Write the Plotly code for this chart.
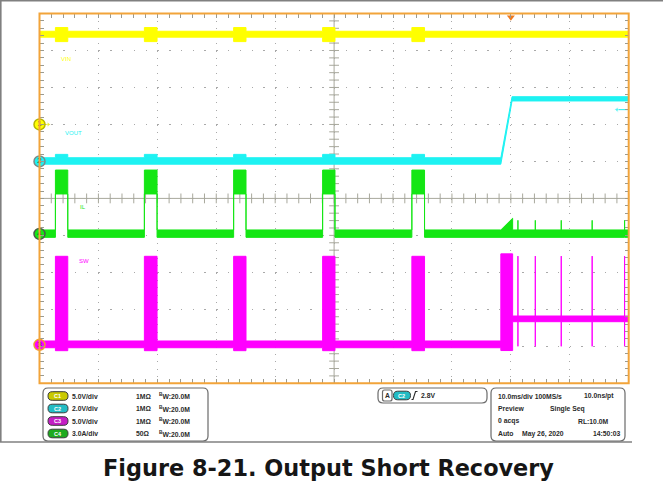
import plotly.graph_objects as go

W, H = 663, 494

# ---------------- acquisition record (time in ms, trigger at t = 0) ----------------
time_range = [-80.0, 20.0]
hiccup_on = [-77.3, -62.2, -47.05, -31.95, -16.8]
hiccup_off = [-75.2, -60.05, -44.95, -29.85, -14.65]
restart_on = -1.7
restart_done = 0.3
vout_rise_done = 0.2
pulse_t = [1.2, 4.15, 8.55, 13.8, 19.3]      # isolated switching pulses after recovery

# envelopes as [low, high]
vin_idle = [11.8, 12.6]          # V
vin_burst = [11.2, 13.1]

vout_idle = [-0.15, 0.2]         # V
vout_burst = [-0.15, 0.38]
vout_reg = [3.27, 3.5]

sw_idle = [-0.39, 0.52]          # V
sw_burst = [-0.79, 11.97]
sw_restart = [-0.77, 12.3]
sw_reg = [3.13, 3.9]
sw_pulse = [-0.2, 12.0]

il_idle = [-0.28, 0.32]          # A
il_burst = [3.24, 5.18]
il_restart_peak = 1.27
il_pulse_peak = 1.10

# ---------------- scope settings ----------------
ch_names = ["C1", "C2", "C3", "C4"]
ch_per_div = [5.0, 2.0, 5.0, 3.0]
ch_scale_text = ["5.0V/div", "2.0V/div", "5.0V/div", "3.0A/div"]
ch_term = ["1MΩ", "1MΩ", "1MΩ", "50Ω"]
ch_bw = ["20.0M", "20.0M", "20.0M", "20.0M"]
ch_labels = ["VIN", "VOUT", "SW", "IL"]
trigger_level = 2.8              # V on C2
trigger_text = "2.8V"
horiz_text = ["10.0ms/div 100MS/s", "10.0ns/pt"]
acq_text = ["Preview", "Single Seq", "0 acqs", "RL:10.0M"]
clock_text = ["Auto", "May 26, 2020", "14:50:03"]
title_text = "Figure 8-21. Output Short Recovery"

# display layout
ch_position = [2.0, 1.0, -3.96, -0.96]        # divisions from centre
ch_color = ["#ffff00", "#1ef2f2", "#ff00ff", "#14e614"]
ch_badge = ["#c9c900", "#22bcc4", "#c41ec4", "#1eaa1e"]
ch_marker_edge = ["#b5b500", "#7a8a8a", "#f0a030", "#4a5a4a"]
ch_label_xy = [(59, 59), (63, 132.5), (77, 261), (78, 207)]
FX0, FX1, FY0, FY1 = 39.5, 628.7, 13.5, 383.3   # graticule frame, px


def px(x):
    return x / W


def py(y):
    return 1 - y / H


def seg(t0, t1, a, b=None):
    b = a if b is None else b
    return (t0, t1, a[0], a[1], b[0], b[1])


def hiccup(idle, burst):
    segs, t = [], time_range[0]
    for on, off in zip(hiccup_on, hiccup_off):
        segs += [seg(t, on, idle), seg(on, off, burst)]
        t = off
    return segs, t


def with_pulses(t, base, pulse, t_end):
    segs = []
    for tp in pulse_t:
        segs += [seg(t, tp, base), seg(tp, tp, pulse)]
        t = tp
    segs.append(seg(t, t_end, base))
    return segs


def polygon(segs):
    ut, uv, lt, lv = [], [], [], []
    for t0, t1, lo0, hi0, lo1, hi1 in segs:
        ut += [t0, t1]
        uv += [hi0, hi1]
        lt += [t0, t1]
        lv += [lo0, lo1]
    return ut + lt[::-1], uv + lv[::-1]


# ---- build envelopes ----
s, t = hiccup(vin_idle, vin_burst)
vin_segs = s + [seg(t, time_range[1], vin_idle)]

s, t = hiccup(vout_idle, vout_burst)
vout_segs = s + [seg(t, restart_on, vout_idle),
                 seg(restart_on, vout_rise_done, vout_idle, vout_reg),
                 seg(vout_rise_done, time_range[1], vout_reg)]

s, t = hiccup(sw_idle, sw_burst)
sw_segs = s + [seg(t, restart_on, sw_idle),
               seg(restart_on, restart_done, sw_restart)] + \
    with_pulses(restart_done, sw_reg, sw_pulse, time_range[1])

s, t = hiccup(il_idle, il_burst)
il_segs = s + [seg(t, restart_on, il_idle),
               seg(restart_on, restart_done, il_idle, [il_idle[0], il_restart_peak])] + \
    with_pulses(restart_done, il_idle, [il_idle[0], il_pulse_peak], time_range[1])

channel_segs = [vin_segs, vout_segs, sw_segs, il_segs]

fig = go.Figure()

# centre crosshair ticks
tick_x = [time_range[0] + 2 * k for k in range(51)]
tick_y = [-5 + 0.2 * k for k in range(51)]
fig.add_trace(go.Scatter(x=tick_x, y=[0] * len(tick_x), mode="markers",
                         marker=dict(symbol="line-ns", size=7, line=dict(color="#a8a89c", width=1)),
                         hoverinfo="skip", cliponaxis=False))
fig.add_trace(go.Scatter(x=[-30] * len(tick_y), y=tick_y, mode="markers",
                         marker=dict(symbol="line-ew", size=7, line=dict(color="#a8a89c", width=1)),
                         hoverinfo="skip", cliponaxis=False))

# waveforms
for i in [2, 3, 1, 0]:
    xs, ys = polygon(channel_segs[i])
    fig.add_trace(go.Scatter(x=xs, y=ys, mode="lines", fill="toself",
                             fillcolor=ch_color[i], line=dict(color=ch_color[i], width=1),
                             yaxis="y%d" % (i + 2), hoverinfo="skip"))

# C1 ground arrow
fig.add_trace(go.Scatter(x=[-79.6, -78.5], y=[0, 0], yaxis="y2", mode="lines+markers",
                         line=dict(color="#e6e600", width=1),
                         marker=dict(symbol=["line-ew", "triangle-right"], size=[1, 5], color="#e6e600"),
                         cliponaxis=False, hoverinfo="skip"))

# trigger level indicator on C2
fig.add_trace(go.Scatter(x=[18.0, time_range[1]], y=[trigger_level] * 2, yaxis="y3",
                         mode="lines+markers", line=dict(color=ch_color[1], width=1),
                         marker=dict(symbol=["triangle-left", "line-ew"], size=[5, 1], color=ch_color[1]),
                         cliponaxis=False, hoverinfo="skip"))

# channel ground markers
for i in range(4):
    fig.add_trace(go.Scatter(x=[time_range[0]], y=[0], yaxis="y%d" % (i + 2),
                             mode="markers+text", text=[ch_names[i][1]],
                             textposition="middle center",
                             textfont=dict(family="Liberation Sans", size=8, color="#333333"),
                             marker=dict(symbol="circle", size=11, color=ch_color[i],
                                         line=dict(color=ch_marker_edge[i], width=1.5)),
                             cliponaxis=False, hoverinfo="skip"))

# trigger position marker
fig.add_trace(go.Scatter(x=[0], y=[4.9], mode="markers",
                         marker=dict(symbol="triangle-down", size=7, color="#f07a1e"),
                         cliponaxis=False, hoverinfo="skip"))

layout_axes = dict(
    xaxis=dict(domain=[px(FX0), px(FX1)], range=time_range, showticklabels=False,
               showgrid=True, dtick=10, tick0=0, gridcolor="#a9a9a9", griddash="1px,6.4px",
               ticks="inside", ticklen=4, tickcolor="#9a9a90", mirror="ticks",
               showline=False, zeroline=False,
               minor=dict(dtick=2, ticks="inside", ticklen=4, tickcolor="#9a9a90", showgrid=False)),
    yaxis=dict(domain=[py(FY1), py(FY0)], range=[-5, 5], showticklabels=False,
               showgrid=True, dtick=1, tick0=0, gridcolor="#a9a9a9", griddash="1.5px,10.28px",
               ticks="inside", ticklen=4, tickcolor="#9a9a90", mirror="ticks",
               showline=False, zeroline=False,
               minor=dict(dtick=0.2, ticks="inside", ticklen=4, tickcolor="#9a9a90", showgrid=False)),
)
for i in range(4):
    pos, sc = ch_position[i], ch_per_div[i]
    layout_axes["yaxis%d" % (i + 2)] = dict(
        domain=[py(FY1), py(FY0)], range=[(-5 - pos) * sc, (5 - pos) * sc],
        overlaying="y", anchor="x", visible=False)

shapes = []
# centre lines
shapes.append(dict(type="line", xref="x", yref="y", x0=-30, x1=-30, y0=-5, y1=5,
                   line=dict(color="#a8a89c", width=1), layer="below"))
shapes.append(dict(type="line", xref="x", yref="y", x0=time_range[0], x1=time_range[1], y0=0, y1=0,
                   line=dict(color="#a8a89c", width=1), layer="below"))
# graticule frame
shapes.append(dict(type="rect", xref="paper", yref="paper", x0=px(FX0), x1=px(FX1),
                   y0=py(FY1), y1=py(FY0), line=dict(color="#f2a43a", width=2), layer="above"))
# page rules
shapes.append(dict(type="line", xref="paper", yref="paper", x0=0, x1=1, y0=py(0.8), y1=py(0.8),
                   line=dict(color="#808080", width=1.6)))
shapes.append(dict(type="line", xref="paper", yref="paper", x0=px(0.8), x1=px(0.8), y0=py(0), y1=py(442),
                   line=dict(color="#808080", width=1.6)))
shapes.append(dict(type="line", xref="paper", yref="paper", x0=0, x1=px(632), y0=py(442), y1=py(442),
                   line=dict(color="#808080", width=1.6)))


def rrect(x0, y0, x1, y1, r, line="#6a6a6a", fill="white", width=1.2):
    pts = (f"M{px(x0 + r)},{py(y0)} L{px(x1 - r)},{py(y0)} Q{px(x1)},{py(y0)} {px(x1)},{py(y0 + r)} "
           f"L{px(x1)},{py(y1 - r)} Q{px(x1)},{py(y1)} {px(x1 - r)},{py(y1)} "
           f"L{px(x0 + r)},{py(y1)} Q{px(x0)},{py(y1)} {px(x0)},{py(y1 - r)} "
           f"L{px(x0)},{py(y0 + r)} Q{px(x0)},{py(y0)} {px(x0 + r)},{py(y0)} Z")
    return dict(type="path", xref="paper", yref="paper", path=pts,
                line=dict(color=line, width=width), fillcolor=fill, layer="above")


shapes.append(rrect(43, 388, 208, 441, 5))
shapes.append(rrect(378, 388, 487, 403, 5))
shapes.append(rrect(491, 388, 625, 441, 5))

annotations = []
TXT = "Liberation Sans"
row_y = [396, 408.5, 421, 433.5]
for i in range(4):
    yc = row_y[i]
    shapes.append(rrect(48, yc - 4.3, 68, yc + 4.3, 4.2, line="#3a3a3a", fill=ch_badge[i], width=1))
    annotations.append(dict(x=px(58), y=py(yc), xref="paper", yref="paper", text="<b>%s</b>" % ch_names[i],
                            showarrow=False, font=dict(family=TXT, size=5.5, color="white"),
                            xanchor="center", yanchor="middle"))
    for x, txt in [(70, ch_scale_text[i]), (134, ch_term[i]),
                   (157, "<sup>B</sup>W:" + ch_bw[i])]:
        annotations.append(dict(x=px(x), y=py(yc), xref="paper", yref="paper", text="<b>%s</b>" % txt,
                                showarrow=False, font=dict(family=TXT, size=6.8, color="#2a2a2a"),
                                xanchor="left", yanchor="middle"))

# trigger readout
shapes.append(rrect(382.5, 390, 392, 401, 2, line="#6a6a6a"))
annotations.append(dict(x=px(387.2), y=py(395.5), xref="paper", yref="paper", text="<b>A</b>",
                        showarrow=False, font=dict(family=TXT, size=6.8, color="#2a2a2a"),
                        xanchor="center", yanchor="middle"))
shapes.append(rrect(393.5, 391.2, 410.5, 399.8, 4.2, line="#3a3a3a", fill=ch_badge[1], width=1))
annotations.append(dict(x=px(402), y=py(395.5), xref="paper", yref="paper", text="<b>C2</b>",
                        showarrow=False, font=dict(family=TXT, size=5.5, color="white"),
                        xanchor="center", yanchor="middle"))
shapes.append(dict(type="path", xref="paper", yref="paper",
                   path=f"M{px(411.5)},{py(399.5)} L{px(413)},{py(399.5)} L{px(415.5)},{py(391.5)} L{px(417.5)},{py(391.5)}",
                   line=dict(color="#2a2a2a", width=1.1), layer="above"))
annotations.append(dict(x=px(418.5), y=py(395.5), xref="paper", yref="paper", text="<b>%s</b>" % trigger_text,
                        showarrow=False, font=dict(family=TXT, size=6.8, color="#2a2a2a"),
                        xanchor="left", yanchor="middle"))

# acquisition readout
right_items = [
    (496, row_y[0], horiz_text[0], "left"), (616, row_y[0], horiz_text[1], "right"),
    (496, row_y[1], acq_text[0], "left"), (548, row_y[1], acq_text[1], "left"),
    (496, row_y[2], acq_text[2], "left"), (611, row_y[2], acq_text[3], "right"),
    (496, row_y[3], clock_text[0], "left"), (520, row_y[3], clock_text[1], "left"),
    (622, row_y[3], clock_text[2], "right"),
]
for x, y, txt, anc in right_items:
    annotations.append(dict(x=px(x), y=py(y), xref="paper", yref="paper", text="<b>%s</b>" % txt,
                            showarrow=False, font=dict(family=TXT, size=6.8, color="#2a2a2a"),
                            xanchor=anc, yanchor="middle"))

# trace names on the graticule
for i in range(4):
    x, y = ch_label_xy[i]
    annotations.append(dict(x=px(x), y=py(y), xref="paper", yref="paper", text=ch_labels[i],
                            showarrow=False, font=dict(family=TXT, size=6, color=ch_color[i]),
                            xanchor="left", yanchor="middle"))

annotations.append(dict(x=px(328), y=py(467.5), xref="paper", yref="paper",
                        text="<b>%s</b>" % title_text, showarrow=False,
                        font=dict(family="DejaVu Sans", size=22.4, color="#161616"),
                        xanchor="center", yanchor="middle"))

fig.update_layout(width=W, height=H, margin=dict(l=0, r=0, t=0, b=0),
                  paper_bgcolor="white", plot_bgcolor="white", showlegend=False,
                  shapes=shapes, annotations=annotations, **layout_axes)

fig.write_html("out.html", config={"displayModeBar": False})
